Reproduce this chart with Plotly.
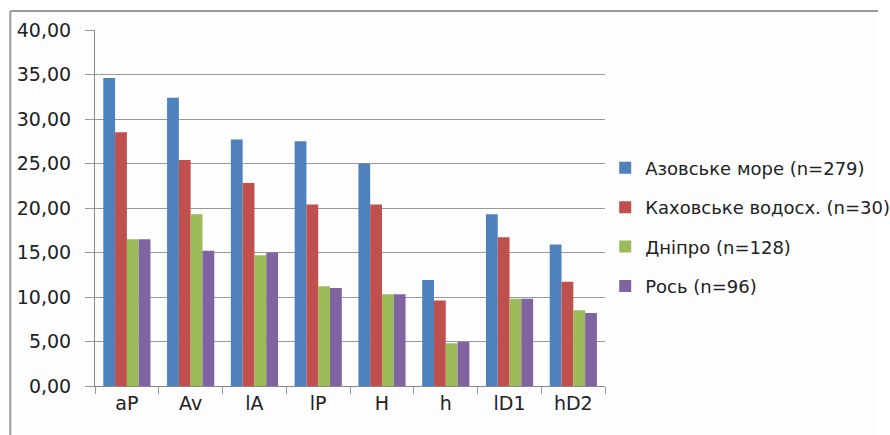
import plotly.graph_objects as go

categories = ["aP", "Av", "lA", "lP", "H", "h", "lD1", "hD2"]
series_names = ["Азовське море (n=279)", "Каховське водосх. (n=30)", "Дніпро (n=128)", "Рось (n=96)"]
azov = [34.6, 32.4, 27.7, 27.5, 25.0, 11.9, 19.3, 15.9]
kakhovka = [28.5, 25.4, 22.8, 20.4, 20.4, 9.6, 16.7, 11.7]
dnipro = [16.5, 19.3, 14.7, 11.2, 10.3, 4.8, 9.8, 8.5]
ros = [16.5, 15.2, 15.0, 11.0, 10.3, 4.95, 9.8, 8.2]
colors = ["#4F81BD", "#C0504D", "#9BBB59", "#8064A2"]
tick_vals = [0, 5, 10, 15, 20, 25, 30, 35, 40]
tick_text = ["0,00", "5,00", "10,00", "15,00", "20,00", "25,00", "30,00", "35,00", "40,00"]

fig = go.Figure()
for i, (name, vals, col) in enumerate(zip(series_names, [azov, kakhovka, dnipro, ros], colors)):
    fig.add_trace(go.Bar(x=categories, y=vals, name=name, marker_color=col,
                         marker_line_width=0, legendgroup=f"g{i}"))

font = "DejaVu Sans"
L, R, T, B = 95, 277, 30, 49
PW, PH = 890 - L - R, 435 - T - B
fig.update_layout(
    width=890, height=435,
    margin=dict(l=L, r=R, t=T, b=B),
    paper_bgcolor="white", plot_bgcolor="#fdfdfd",
    barmode="group", bargap=0.26, bargroupgap=0,
    font=dict(family=font, size=18, color="#222"),
    showlegend=True,
    legend=dict(xref="container", yref="container", x=0.68, y=0.478,
                xanchor="left", yanchor="middle",
                font=dict(family=font, size=18, color="#222"),
                tracegroupgap=13, bgcolor="rgba(0,0,0,0)"),
    xaxis=dict(showgrid=False, showline=True, linecolor="#888", linewidth=1,
               ticks="outside", tickson="boundaries", ticklen=7, tickcolor="#999",
               automargin=False,
               tickfont=dict(family=font, size=19, color="#222")),
    yaxis=dict(range=[0, 40], tickvals=tick_vals, ticktext=tick_text,
               showgrid=True, gridcolor="#999", gridwidth=1,
               showline=True, linecolor="#888", linewidth=1,
               ticks="outside", ticklen=9, tickcolor="#999",
               ticklabelstandoff=10, automargin=False,
               tickfont=dict(family=font, size=19, color="#222"), zeroline=False),
    shapes=[
        dict(type="line", xref="paper", yref="paper",
             x0=-(L - 9) / PW, x1=(890 - L) / PW, y0=1 + 19 / PH, y1=1 + 19 / PH,
             line=dict(color="#999", width=2)),
        dict(type="line", xref="paper", yref="paper",
             x0=-(L - 9) / PW, x1=-(L - 9) / PW, y0=1 + 19 / PH, y1=-B / PH,
             line=dict(color="#999", width=2)),
        dict(type="rect", xref="paper", yref="paper",
             x0=-(L - 10) / PW, x1=(890 - L) / PW, y0=-B / PH, y1=1 + 18 / PH,
             line=dict(width=0), fillcolor="#fdfdfd", layer="below"),
    ],
)
fig.write_html("out.html", config={"displayModeBar": False},
               post_script="document.body.style.margin='0';document.body.style.overflow='hidden';")
